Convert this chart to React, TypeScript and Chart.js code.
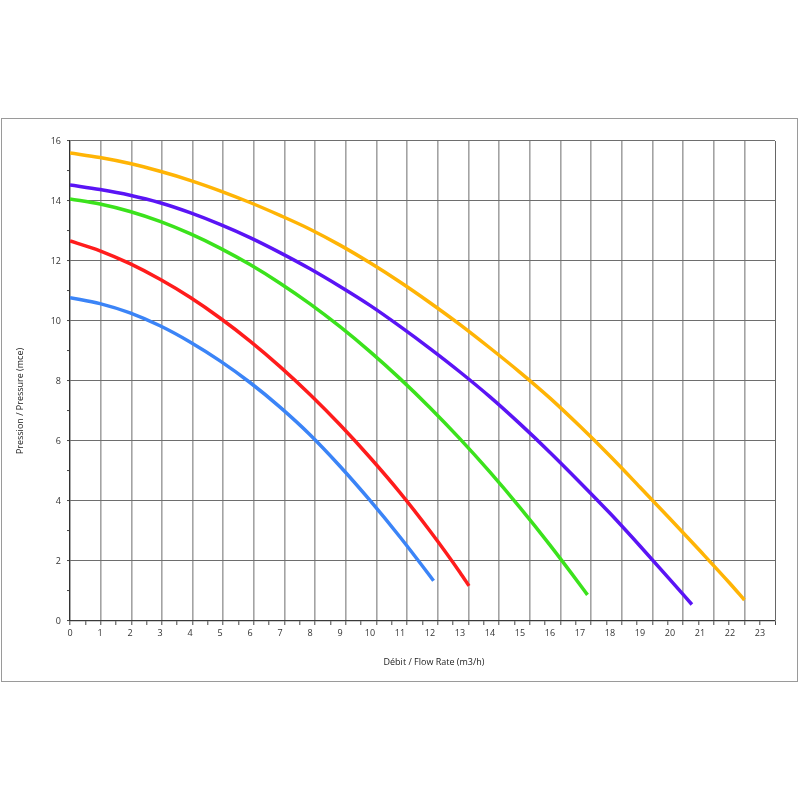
import React, { useEffect, useRef } from "react";
import { Chart, registerables } from "chart.js";

Chart.register(...registerables);

// ---- Data (flow rate in m3/h, pressure in mce) ----
const xTickLabels = ["0","1","2","3","4","5","6","7","8","9","10","11","12","13","14","15","16","17","18","19","20","21","22","23"];
const yTickLabels = ["0","2","4","6","8","10","12","14","16"];

const seriesNames = ["Blue", "Red", "Green", "Purple", "Yellow"];
const seriesColors = ["#3b84f7", "#ff1c1c", "#3be21c", "#5a14f5", "#ffb405"];

const qBlue = [0, 1, 2, 3, 4, 5, 6, 7, 8, 9, 10, 11, 12, 12.12];
const hBlue = [10.78, 10.58, 10.27, 9.84, 9.3, 8.67, 7.95, 7.13, 6.21, 5.16, 4.02, 2.8, 1.5, 1.34];

const qRed = [0, 1, 2, 3, 4, 5, 6, 7, 8, 9, 10, 11, 12, 13, 13.3];
const hRed = [12.67, 12.34, 11.91, 11.39, 10.79, 10.1, 9.33, 8.48, 7.55, 6.54, 5.45, 4.28, 3.0, 1.62, 1.17];

const qGreen = [0, 1, 2, 3, 4, 5, 6, 7, 8, 9, 10, 11, 12, 13, 14, 15, 16, 17, 17.25];
const hGreen = [14.07, 13.9, 13.65, 13.32, 12.91, 12.43, 11.88, 11.26, 10.57, 9.81, 8.98, 8.08, 7.11, 6.07, 4.96, 3.78, 2.53, 1.21, 0.87];

const qPurple = [0, 1, 2, 3, 4, 5, 6, 7, 8, 9, 10, 11, 12, 13, 14, 15, 16, 17, 18, 19, 20, 20.73];
const hPurple = [14.53, 14.38, 14.19, 13.94, 13.61, 13.22, 12.78, 12.28, 11.74, 11.15, 10.52, 9.82, 9.08, 8.3, 7.47, 6.57, 5.62, 4.62, 3.59, 2.5, 1.38, 0.55];

const qYellow = [0, 1, 2, 3, 4, 5, 6, 7, 8, 9, 10, 11, 12, 13, 14, 15, 16, 17, 18, 19, 20, 21, 22, 22.48];
const hYellow = [15.6, 15.45, 15.25, 14.99, 14.69, 14.34, 13.95, 13.52, 13.06, 12.53, 11.94, 11.3, 10.61, 9.88, 9.1, 8.29, 7.43, 6.49, 5.5, 4.46, 3.41, 2.34, 1.25, 0.7];

const xTitle = "Débit / Flow Rate (m3/h)";
const yTitle = "Pression / Pressure (mce)";

const FONT = '"Open Sans", "DejaVu Sans", sans-serif';

function pairs(q: number[], h: number[]) {
  return q.map((x, i) => ({ x, y: h[i] }));
}

const decorPlugin = {
  id: "decor",
  beforeDraw(chart: any) {
    const { ctx, chartArea: a } = chart;
    ctx.save();
    ctx.fillStyle = "#ffffff";
    ctx.fillRect(0, 0, chart.width, chart.height);
    ctx.strokeStyle = "#9a9a9a";
    ctx.lineWidth = 1;
    ctx.strokeRect(a.left - 68.5, a.top - 22.5, a.right - a.left + 91, a.bottom - a.top + 83);
    ctx.restore();
  },
  afterDraw(chart: any) {
    const { ctx, chartArea: a } = chart;
    ctx.save();
    ctx.fillStyle = "#222222";
    ctx.font = `9px ${FONT}`;
    ctx.textAlign = "center";
    ctx.textBaseline = "middle";
    ctx.fillText(xTitle, a.left + 364, a.bottom + 41);
    ctx.translate(a.left - 50, a.top + 260);
    ctx.rotate(-Math.PI / 2);
    ctx.fillText(yTitle, 0, 0);
    ctx.restore();
  },
};

export default function App() {
  const canvasRef = useRef<HTMLCanvasElement | null>(null);

  useEffect(() => {
    if (!canvasRef.current) return;
    const qs = [qBlue, qRed, qGreen, qPurple, qYellow];
    const hs = [hBlue, hRed, hGreen, hPurple, hYellow];
    const datasets = seriesNames.map((name, i) => ({
      label: name,
      data: pairs(qs[i], hs[i]),
      borderColor: seriesColors[i],
      backgroundColor: seriesColors[i],
      borderWidth: 3.5,
      pointRadius: 0,
      fill: false,
      cubicInterpolationMode: "monotone" as const,
      xAxisID: "x",
      yAxisID: "y",
    }));

    const chart = new Chart(canvasRef.current, {
      type: "line",
      data: { datasets },
      options: {
        animation: false,
        responsive: false,
        maintainAspectRatio: false,
        layout: { padding: { top: 141, right: 25, left: 0, bottom: 0 } },
        plugins: {
          legend: { display: false },
          tooltip: { enabled: false },
        },
        scales: {
          xg: {
            type: "linear",
            position: "bottom",
            min: 0,
            max: 23,
            weight: 0,
            ticks: { display: false, stepSize: 0.5 },
            grid: {
              color: (c: any) => {
                const v = c.tick ? c.tick.value : undefined;
                if (v === undefined || !Number.isInteger(v)) return "rgba(0,0,0,0)";
                return v === 23 ? "#666666" : "#a3a3a3";
              },
              lineWidth: (c: any) => (c.tick && c.tick.value === 23 ? 1 : 1.6),
              tickColor: "#444444",
              tickWidth: 1,
              tickLength: 4,
              drawTicks: true,
            },
            border: { display: true, color: "#3a3a3a", width: 1.2 },
            afterFit: (s: any) => {
              s.height = 0;
            },
          },
          x: {
            type: "linear",
            position: "bottom",
            min: 0,
            max: 23.5,
            weight: 1,
            ticks: {
              stepSize: 1,
              includeBounds: false,
              autoSkip: false,
              maxRotation: 0,
              padding: 7,
              color: "#333333",
              font: { family: FONT, size: 9 },
              callback: (v: any) => (Number.isInteger(v) && v <= 23 ? xTickLabels[v] : ""),
            },
            grid: { display: false, drawTicks: false },
            border: { display: false },
            afterFit: (s: any) => {
              s.height = 179;
            },
          },
          y: {
            type: "linear",
            position: "left",
            min: 0,
            max: 16,
            ticks: {
              stepSize: 1,
              autoSkip: false,
              padding: 6,
              color: "#333333",
              font: { family: FONT, size: 9 },
              callback: (v: any) => (Number(v) % 2 === 0 ? yTickLabels[Number(v) / 2] : ""),
            },
            grid: {
              color: (c: any) =>
                c.tick && c.tick.value % 2 === 0 ? "#6e6e6e" : "rgba(0,0,0,0)",
              lineWidth: 1.1,
              tickColor: "#444444",
              tickWidth: 1,
              tickLength: 3,
            },
            border: { display: true, color: "#333333", width: 1.2 },
            afterFit: (s: any) => {
              s.width = 70;
            },
          },
        },
      },
      plugins: [decorPlugin],
    } as any);

    return () => chart.destroy();
  }, []);

  return (
    <div style={{ position: "absolute", left: 0, top: 0, width: 800, height: 800, background: "#fff" }}>
      <canvas ref={canvasRef} width={800} height={800} style={{ display: "block" }} />
    </div>
  );
}
